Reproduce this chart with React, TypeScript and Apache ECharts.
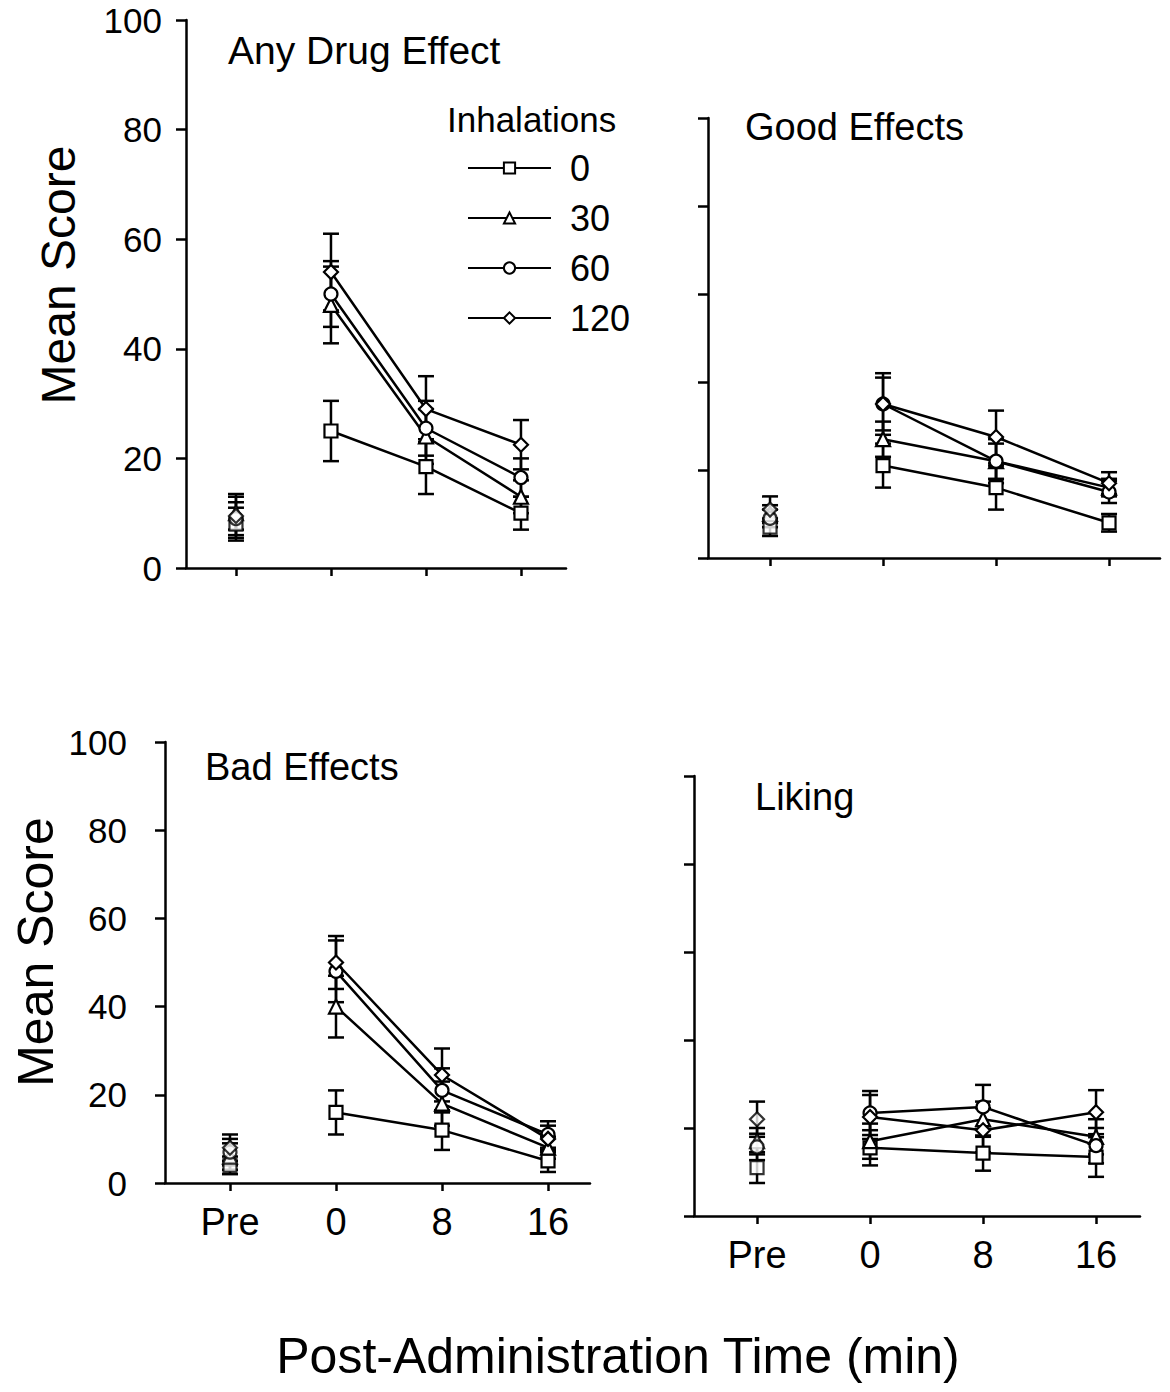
import React, { useEffect, useRef } from 'react';
import * as echarts from 'echarts';

// ---- Data ----
const timeLabels = ['Pre', '0', '8', '16'];
const doseLabels = ['0', '30', '60', '120'];

// rows: dose 0, 30, 60, 120 ; columns: Pre, 0, 8, 16 min
const anyDrugMeans = [
  [8, 25, 18.5, 10],
  [10, 48, 24, 13],
  [9, 50, 25.5, 16.5],
  [9.5, 54, 29, 22.5],
];
const anyDrugSem = [
  [3, 5.5, 5, 3],
  [3, 7, 5, 3],
  [3, 6, 5, 3.5],
  [4, 7, 6, 4.5],
];

const goodMeans = [
  [7, 21, 16, 8],
  [10, 27, 22, 16],
  [9, 35, 22, 15],
  [11, 35, 27.5, 17],
];
const goodSem = [
  [2, 5, 5, 2],
  [2, 4, 4, 2],
  [2, 6, 5, 2.5],
  [3, 7, 6, 2.5],
];

const badMeans = [
  [4, 16, 12, 5],
  [6, 40, 18, 8],
  [7, 48, 21, 11],
  [8, 50, 24.5, 10],
];
const badSem = [
  [2, 5, 4.5, 2.5],
  [3, 7, 5, 2.5],
  [3, 7, 5, 3],
  [3, 6, 6, 3],
];

const likingMeans = [
  [11, 15.5, 14.3, 13.4],
  [17, 17, 22, 18],
  [15.7, 23.4, 24.8, 16],
  [22, 22.5, 19.5, 23.6],
];
const likingSem = [
  [3.5, 4, 4, 4.5],
  [3, 4, 4, 4],
  [3, 5, 5, 4],
  [4, 5, 5, 5],
];

const yTicks = [0, 20, 40, 60, 80, 100];

// ---- Layout / style ----
const FONT = '"Liberation Sans", Arial, Helvetica, sans-serif';
const symbols = ['rect', 'triangle', 'circle', 'diamond'];
const symbolSizes = [13, 14, 13, 14];

const panels = [
  {
    key: 'any', title: 'Any Drug Effect', means: anyDrugMeans, sem: anyDrugSem,
    grid: { left: 186, top: 20, width: 380, height: 548 },
    xMin: -0.526, xMax: 3.474, showY: true, showX: false, yMargin: 24,
    titleX: 228, titleY: 53, titleSize: 39,
  },
  {
    key: 'good', title: 'Good Effects', means: goodMeans, sem: goodSem,
    grid: { left: 708, top: 118, width: 452, height: 440 },
    xMin: -0.549, xMax: 3.451, showY: false, showX: false, yMargin: 22,
    titleX: 745, titleY: 130, titleSize: 38,
  },
  {
    key: 'bad', title: 'Bad Effects', means: badMeans, sem: badSem,
    grid: { left: 165, top: 742, width: 425, height: 441 },
    xMin: -0.613, xMax: 3.396, showY: true, showX: true, yMargin: 38,
    titleX: 205, titleY: 770, titleSize: 38,
  },
  {
    key: 'liking', title: 'Liking', means: likingMeans, sem: likingSem,
    grid: { left: 694, top: 776, width: 446, height: 440 },
    xMin: -0.558, xMax: 3.389, showY: false, showX: true, yMargin: 22,
    titleX: 755, titleY: 800, titleSize: 38,
  },
];

function buildOption() {
  const grids: any[] = [];
  const xAxes: any[] = [];
  const yAxes: any[] = [];
  const series: any[] = [];
  const graphics: any[] = [];
  const tickIdx = timeLabels.map((_, i) => i);

  panels.forEach((p, pi) => {
    grids.push({ ...p.grid, containLabel: false });
    xAxes.push({
      type: 'value', gridIndex: pi, min: p.xMin, max: p.xMax,
      axisLine: { show: true, onZero: false, lineStyle: { color: '#000', width: 2.5 } },
      axisTick: { show: true, customValues: tickIdx, length: 8, lineStyle: { color: '#000', width: 2.5 } },
      axisLabel: {
        show: p.showX, customValues: tickIdx, margin: 20,
        formatter: (v: number) => timeLabels[Math.round(v)] ?? '',
        color: '#000', fontFamily: FONT, fontSize: 38,
      },
      splitLine: { show: false },
    });
    yAxes.push({
      type: 'value', gridIndex: pi, min: 0, max: 100, interval: 20,
      axisLine: { show: true, onZero: false, lineStyle: { color: '#000', width: 2.5 } },
      axisTick: { show: true, length: 10, lineStyle: { color: '#000', width: 2.5 } },
      axisLabel: {
        show: p.showY, margin: p.yMargin, color: '#000', fontFamily: FONT, fontSize: 35,
        customValues: yTicks,
      },
      splitLine: { show: false },
    });

    // error bars (behind markers)
    const errData: any[] = [];
    p.means.forEach((row, di) => {
      row.forEach((m, ti) => {
        errData.push([ti, m - p.sem[di][ti], m + p.sem[di][ti]]);
      });
    });
    series.push({
      type: 'custom', name: `${p.key}-err`, xAxisIndex: pi, yAxisIndex: pi, z: 1,
      data: errData, encode: { x: 0, y: [1, 2] }, silent: true,
      renderItem: (params: any, api: any) => {
        const x = api.value(0);
        const lo = api.coord([x, api.value(1)]);
        const hi = api.coord([x, api.value(2)]);
        const w = 8;
        const st = { stroke: '#000', lineWidth: 2.5, fill: 'none' };
        return {
          type: 'group',
          children: [
            { type: 'line', shape: { x1: hi[0], y1: hi[1], x2: lo[0], y2: lo[1] }, style: st },
            { type: 'line', shape: { x1: hi[0] - w, y1: hi[1], x2: hi[0] + w, y2: hi[1] }, style: st },
            { type: 'line', shape: { x1: lo[0] - w, y1: lo[1], x2: lo[0] + w, y2: lo[1] }, style: st },
          ],
        };
      },
    });

    p.means.forEach((row, di) => {
      const common = {
        xAxisIndex: pi, yAxisIndex: pi,
        symbol: symbols[di], symbolSize: symbolSizes[di],
        itemStyle: { color: '#fff', borderColor: '#000', borderWidth: 2.2 },
        z: 3 + di,
      };
      series.push({
        ...common,
        type: 'line',
        name: pi === 0 ? doseLabels[di] : `${p.key}-${doseLabels[di]}`,
        data: row.slice(1).map((v, i) => [i + 1, v]),
        showAllSymbol: true,
        lineStyle: { color: '#000', width: 2.5 },
      });
      series.push({
        ...common,
        type: 'scatter',
        name: `${p.key}-pre-${doseLabels[di]}`,
        data: [[0, row[0]]],
      });
    });

    graphics.push({
      type: 'text', left: p.titleX, top: p.titleY - 22,
      style: { text: p.title, font: `${p.titleSize}px ${FONT}`, fill: '#000' },
    });
  });

  graphics.push(
    {
      type: 'text', left: 447, top: 102,
      style: { text: 'Inhalations', font: `35px ${FONT}`, fill: '#000' },
    },
    {
      type: 'text', x: 58, y: 275, rotation: Math.PI / 2,
      style: { text: 'Mean Score', font: `48px ${FONT}`, fill: '#000', align: 'center', verticalAlign: 'middle' },
    },
    {
      type: 'text', x: 36, y: 952, rotation: Math.PI / 2,
      style: { text: 'Mean Score', font: `50px ${FONT}`, fill: '#000', align: 'center', verticalAlign: 'middle' },
    },
    {
      type: 'text', x: 618, y: 1356,
      style: { text: 'Post-Administration Time (min)', font: `50px ${FONT}`, fill: '#000', align: 'center', verticalAlign: 'middle' },
    }
  );

  return {
    animation: false,
    backgroundColor: '#fff',
    grid: grids,
    xAxis: xAxes,
    yAxis: yAxes,
    legend: {
      data: doseLabels,
      orient: 'vertical',
      left: 462, top: 145,
      itemWidth: 83, itemHeight: 14, itemGap: 14,
      textStyle: { fontFamily: FONT, fontSize: 36, color: '#000', lineHeight: 36, padding: [0, 0, 0, 14] },
      selectedMode: false,
    },
    series,
    graphic: graphics,
  };
}

export default function App() {
  const ref = useRef<HTMLDivElement>(null);
  useEffect(() => {
    if (!ref.current) return;
    const chart = echarts.init(ref.current, null, { renderer: 'svg' });
    chart.setOption(buildOption() as any);
    return () => chart.dispose();
  }, []);
  return (
    <div
      ref={ref}
      style={{ position: 'absolute', left: 0, top: 0, width: 1170, height: 1392, background: '#fff' }}
    />
  );
}
